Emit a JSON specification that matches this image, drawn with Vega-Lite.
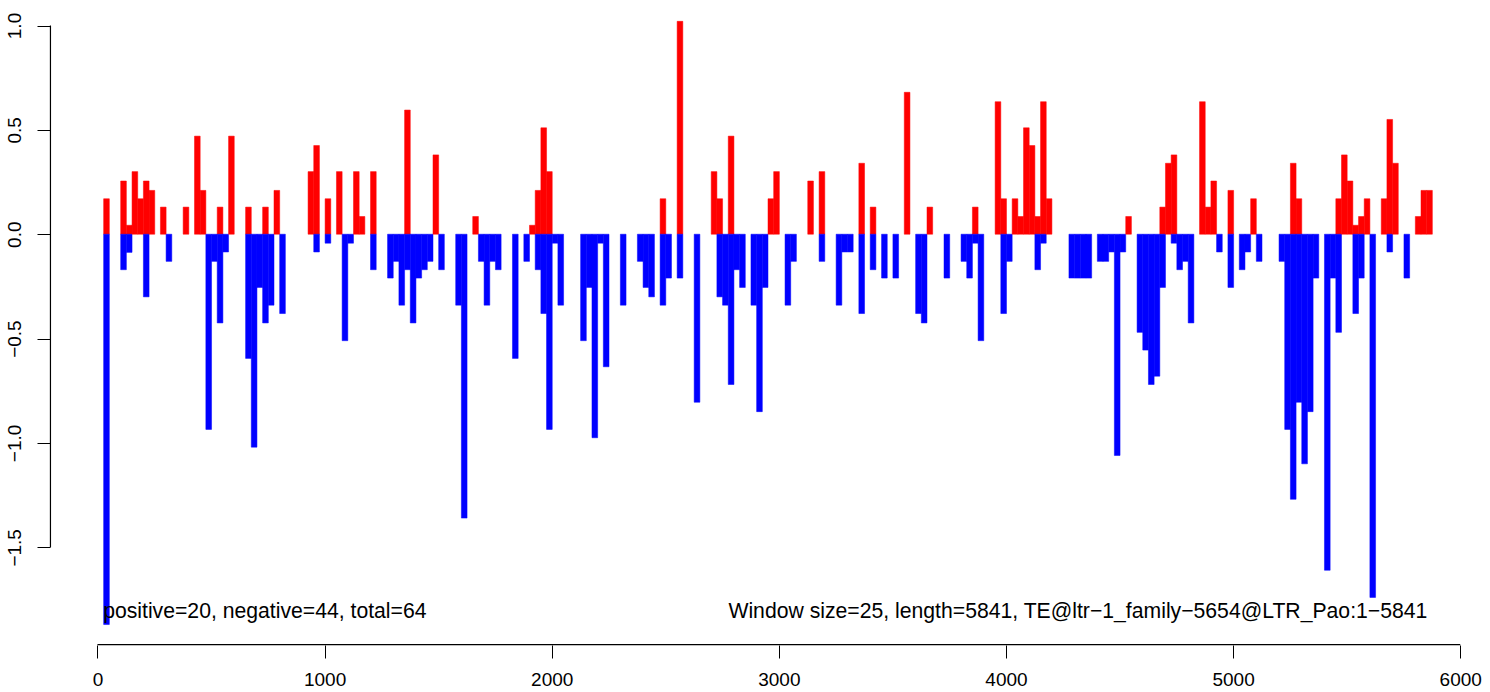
{
  "$schema": "https://vega.github.io/schema/vega-lite/v6.json",
  "width": 1435,
  "height": 645,
  "autosize": {"type": "none"},
  "padding": {"left": 50, "top": 0, "right": 5, "bottom": 47},
  "background": "white",
  "config": {"view": {"stroke": null}, "font": "Liberation Sans"},
  "datasets": {
    "bars": [
      {"start": 25, "value": 0.17}, {"start": 25, "value": -1.87},
      {"start": 100, "value": 0.255}, {"start": 100, "value": -0.17},
      {"start": 125, "value": 0.043}, {"start": 125, "value": -0.087},
      {"start": 150, "value": 0.30},
      {"start": 175, "value": 0.17},
      {"start": 200, "value": 0.255}, {"start": 200, "value": -0.30},
      {"start": 225, "value": 0.21},
      {"start": 275, "value": 0.13},
      {"start": 300, "value": -0.13},
      {"start": 375, "value": 0.13},
      {"start": 425, "value": 0.47},
      {"start": 450, "value": 0.21},
      {"start": 475, "value": -0.935},
      {"start": 500, "value": -0.13},
      {"start": 525, "value": 0.13}, {"start": 525, "value": -0.425},
      {"start": 550, "value": -0.085},
      {"start": 575, "value": 0.47},
      {"start": 650, "value": 0.13}, {"start": 650, "value": -0.595},
      {"start": 675, "value": -1.02},
      {"start": 700, "value": -0.255},
      {"start": 725, "value": 0.13}, {"start": 725, "value": -0.425},
      {"start": 750, "value": -0.34},
      {"start": 775, "value": 0.21},
      {"start": 800, "value": -0.38},
      {"start": 925, "value": 0.30},
      {"start": 950, "value": 0.425}, {"start": 950, "value": -0.085},
      {"start": 1000, "value": 0.17}, {"start": 1000, "value": -0.043},
      {"start": 1050, "value": 0.30},
      {"start": 1075, "value": -0.51},
      {"start": 1100, "value": -0.043},
      {"start": 1125, "value": 0.30},
      {"start": 1150, "value": 0.085},
      {"start": 1200, "value": 0.30}, {"start": 1200, "value": -0.17},
      {"start": 1275, "value": -0.21},
      {"start": 1300, "value": -0.13},
      {"start": 1325, "value": -0.34},
      {"start": 1350, "value": 0.595}, {"start": 1350, "value": -0.17},
      {"start": 1375, "value": -0.425},
      {"start": 1400, "value": -0.21},
      {"start": 1425, "value": -0.17},
      {"start": 1450, "value": -0.13},
      {"start": 1475, "value": 0.38},
      {"start": 1500, "value": -0.17},
      {"start": 1575, "value": -0.34},
      {"start": 1600, "value": -1.36},
      {"start": 1650, "value": 0.085},
      {"start": 1675, "value": -0.13},
      {"start": 1700, "value": -0.34},
      {"start": 1725, "value": -0.13},
      {"start": 1750, "value": -0.17},
      {"start": 1825, "value": -0.595},
      {"start": 1875, "value": -0.13},
      {"start": 1900, "value": 0.043},
      {"start": 1925, "value": 0.21}, {"start": 1925, "value": -0.17},
      {"start": 1950, "value": 0.51}, {"start": 1950, "value": -0.38},
      {"start": 1975, "value": 0.30}, {"start": 1975, "value": -0.935},
      {"start": 2000, "value": -0.043},
      {"start": 2025, "value": -0.34},
      {"start": 2125, "value": -0.51},
      {"start": 2150, "value": -0.255},
      {"start": 2175, "value": -0.975},
      {"start": 2200, "value": -0.043},
      {"start": 2225, "value": -0.635},
      {"start": 2300, "value": -0.34},
      {"start": 2375, "value": -0.13},
      {"start": 2400, "value": -0.255},
      {"start": 2425, "value": -0.30},
      {"start": 2475, "value": 0.17}, {"start": 2475, "value": -0.34},
      {"start": 2500, "value": -0.21},
      {"start": 2550, "value": 1.02}, {"start": 2550, "value": -0.21},
      {"start": 2625, "value": -0.805},
      {"start": 2700, "value": 0.30},
      {"start": 2725, "value": 0.17}, {"start": 2725, "value": -0.30},
      {"start": 2750, "value": -0.34},
      {"start": 2775, "value": 0.47}, {"start": 2775, "value": -0.72},
      {"start": 2800, "value": -0.17},
      {"start": 2825, "value": -0.255},
      {"start": 2875, "value": -0.34},
      {"start": 2900, "value": -0.85},
      {"start": 2925, "value": -0.255},
      {"start": 2950, "value": 0.17},
      {"start": 2975, "value": 0.30},
      {"start": 3025, "value": -0.34},
      {"start": 3050, "value": -0.13},
      {"start": 3125, "value": 0.255},
      {"start": 3175, "value": 0.30}, {"start": 3175, "value": -0.13},
      {"start": 3250, "value": -0.34},
      {"start": 3275, "value": -0.085},
      {"start": 3300, "value": -0.085},
      {"start": 3350, "value": 0.34}, {"start": 3350, "value": -0.38},
      {"start": 3400, "value": 0.13}, {"start": 3400, "value": -0.17},
      {"start": 3450, "value": -0.21},
      {"start": 3500, "value": -0.21},
      {"start": 3550, "value": 0.68},
      {"start": 3600, "value": -0.38},
      {"start": 3625, "value": -0.425},
      {"start": 3650, "value": 0.13},
      {"start": 3725, "value": -0.21},
      {"start": 3800, "value": -0.13},
      {"start": 3825, "value": -0.21},
      {"start": 3850, "value": 0.13}, {"start": 3850, "value": -0.043},
      {"start": 3875, "value": -0.51},
      {"start": 3950, "value": 0.635},
      {"start": 3975, "value": 0.17}, {"start": 3975, "value": -0.38},
      {"start": 4000, "value": -0.13},
      {"start": 4025, "value": 0.17},
      {"start": 4050, "value": 0.085},
      {"start": 4075, "value": 0.51},
      {"start": 4100, "value": 0.425},
      {"start": 4125, "value": 0.085}, {"start": 4125, "value": -0.17},
      {"start": 4150, "value": 0.635}, {"start": 4150, "value": -0.043},
      {"start": 4175, "value": 0.17},
      {"start": 4275, "value": -0.21},
      {"start": 4300, "value": -0.21},
      {"start": 4325, "value": -0.21},
      {"start": 4350, "value": -0.21},
      {"start": 4400, "value": -0.13},
      {"start": 4425, "value": -0.13},
      {"start": 4450, "value": -0.085},
      {"start": 4475, "value": -1.06},
      {"start": 4500, "value": -0.085},
      {"start": 4525, "value": 0.085},
      {"start": 4575, "value": -0.47},
      {"start": 4600, "value": -0.555},
      {"start": 4625, "value": -0.72},
      {"start": 4650, "value": -0.68},
      {"start": 4675, "value": 0.13}, {"start": 4675, "value": -0.255},
      {"start": 4700, "value": 0.34},
      {"start": 4725, "value": 0.38}, {"start": 4725, "value": -0.043},
      {"start": 4750, "value": -0.17},
      {"start": 4775, "value": -0.13},
      {"start": 4800, "value": -0.425},
      {"start": 4850, "value": 0.635},
      {"start": 4875, "value": 0.13},
      {"start": 4900, "value": 0.255},
      {"start": 4925, "value": -0.085},
      {"start": 4975, "value": 0.21}, {"start": 4975, "value": -0.255},
      {"start": 5025, "value": -0.17},
      {"start": 5050, "value": -0.085},
      {"start": 5075, "value": 0.17},
      {"start": 5100, "value": -0.13},
      {"start": 5200, "value": -0.13},
      {"start": 5225, "value": -0.935},
      {"start": 5250, "value": 0.34}, {"start": 5250, "value": -1.27},
      {"start": 5275, "value": 0.17}, {"start": 5275, "value": -0.805},
      {"start": 5300, "value": -1.10},
      {"start": 5325, "value": -0.85},
      {"start": 5350, "value": -0.21},
      {"start": 5400, "value": -1.61},
      {"start": 5425, "value": -0.21},
      {"start": 5450, "value": 0.17}, {"start": 5450, "value": -0.47},
      {"start": 5475, "value": 0.38},
      {"start": 5500, "value": 0.255},
      {"start": 5525, "value": 0.043}, {"start": 5525, "value": -0.38},
      {"start": 5550, "value": 0.085}, {"start": 5550, "value": -0.21},
      {"start": 5575, "value": 0.17},
      {"start": 5600, "value": -1.74},
      {"start": 5650, "value": 0.17},
      {"start": 5675, "value": 0.55}, {"start": 5675, "value": -0.085},
      {"start": 5700, "value": 0.34},
      {"start": 5750, "value": -0.21},
      {"start": 5800, "value": 0.085},
      {"start": 5825, "value": 0.21},
      {"start": 5850, "value": 0.21}
    ],
    "notes": [
      {"pos": 25, "label": "positive=20, negative=44, total=64", "side": "left"},
      {"pos": 5855, "label": "Window size=25, length=5841, TE@ltr−1_family−5654@LTR_Pao:1−5841", "side": "right"}
    ]
  },
  "layer": [
    {
      "data": {"name": "bars"},
      "mark": {"type": "bar", "binSpacing": 0, "strokeWidth": 0.5},
      "encoding": {
        "x": {"field": "start", "type": "quantitative", "bin": {"binned": true, "step": 25},
          "scale": {"domain": [-209, 6109], "nice": false, "zero": false},
          "axis": {"values": [0, 1000, 2000, 3000, 4000, 5000, 6000], "title": null, "domain": false, "grid": false,
            "tickColor": "black", "tickSize": 13, "tickWidth": 1, "labelFontSize": 19, "labelColor": "black",
            "labelPadding": 12, "labelFont": "Liberation Sans", "format": "d", "labelFlush": false, "labelOverlap": false}},
        "y": {"field": "value", "type": "quantitative",
          "scale": {"domain": [-1.968, 1.1222], "nice": false, "zero": false},
          "axis": {"values": [-1.5, -1.0, -0.5, 0, 0.5, 1.0], "format": ".1f", "title": null, "domain": false, "grid": false,
            "tickColor": "black", "tickSize": 13, "tickWidth": 1, "labelFontSize": 19, "labelColor": "black",
            "labelAngle": -90, "labelAlign": "center", "labelBaseline": "alphabetic", "labelPadding": 17,
            "labelFont": "Liberation Sans", "labelFlush": false, "labelOverlap": false}},
        "y2": {"datum": 0},
        "color": {"condition": {"test": "datum.value > 0", "value": "#FF0000"}, "value": "#0000FF"},
        "stroke": {"condition": {"test": "datum.value > 0", "value": "#FF0000"}, "value": "#0000FF"}
      }
    },
    {
      "mark": {"type": "rule", "color": "#A0A0A0", "strokeWidth": 1.5},
      "encoding": {"x": {"datum": 25}, "x2": {"datum": 5875}, "y": {"datum": 0}}
    },
    {
      "data": {"values": [{}]},
      "mark": {"type": "rule", "color": "black", "strokeWidth": 1.2},
      "encoding": {"x": {"datum": 0}, "x2": {"datum": 6000}, "y": {"datum": -1.966}}
    },
    {
      "data": {"values": [{}]},
      "mark": {"type": "rule", "color": "black", "strokeWidth": 1.2},
      "encoding": {"x": {"datum": -207}, "x2": {"datum": -207}, "y": {"datum": -1.5}, "y2": {"datum": 1.0}}
    },
    {
      "data": {"name": "notes"},
      "transform": [{"filter": "datum.side === 'left'"}],
      "mark": {"type": "text", "align": "left", "baseline": "middle", "fontSize": 21.2, "font": "Liberation Sans", "color": "black"},
      "encoding": {"x": {"field": "pos", "type": "quantitative"}, "y": {"datum": -1.81}, "text": {"field": "label"}}
    },
    {
      "data": {"name": "notes"},
      "transform": [{"filter": "datum.side === 'right'"}],
      "mark": {"type": "text", "align": "right", "baseline": "middle", "fontSize": 21.2, "font": "Liberation Sans", "color": "black"},
      "encoding": {"x": {"field": "pos", "type": "quantitative"}, "y": {"datum": -1.81}, "text": {"field": "label"}}
    }
  ]
}
